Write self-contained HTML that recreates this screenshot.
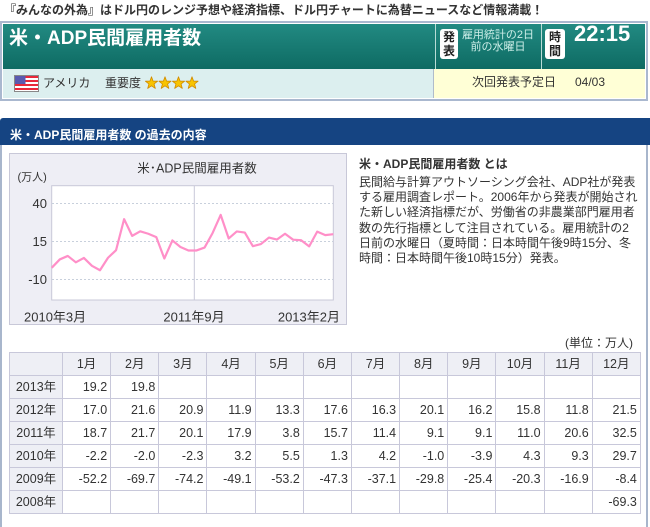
<!DOCTYPE html>
<html><head><meta charset="utf-8">
<style>
*{margin:0;padding:0;box-sizing:border-box;}
html,body{width:650px;height:527px;overflow:hidden;background:#fff;}
body{position:relative;font-family:"Liberation Sans","Noto Sans CJK JP",sans-serif;color:#333;}
.a{position:absolute;white-space:nowrap;}
.grid{position:absolute;left:9px;top:352px;width:632px;height:162px;background:#c8c8da;padding:1px;display:grid;grid-template-columns:52px repeat(12,47.17px);grid-template-rows:repeat(7,22px);gap:1px;}
.grid div{background:#fff;font-size:12.5px;line-height:22px;text-align:right;padding-right:3px;color:#333;white-space:nowrap;overflow:hidden;}
.grid div.h{background:#eeeff5;text-align:center;padding:0;}
</style></head><body>

<div class="a" style="left:4px;top:1px;font-size:12px;line-height:18px;font-weight:bold;color:#333;">『みんなの外為』はドル円のレンジ予想や経済指標、ドル円チャートに為替ニュースなど情報満載！</div>

<!-- header box -->
<div class="a" style="left:0;top:21px;width:648px;height:80px;border:2px solid #aab8cf;background:#fff;"></div>
<div class="a" style="left:3px;top:24px;width:642px;height:45px;background:linear-gradient(#228a82,#0e6b63);"></div>
<div class="a" style="left:435px;top:24px;width:1px;height:45px;background:#b8dcd6;"></div>
<div class="a" style="left:541px;top:24px;width:1px;height:45px;background:#b8dcd6;"></div>
<div class="a" style="left:3px;top:69px;width:431px;height:29px;background:#dcefef;"></div>
<div class="a" style="left:433px;top:69px;width:1px;height:29px;background:#b0bccb;"></div>
<div class="a" style="left:434px;top:69px;width:211px;height:29px;background:#ffffd6;"></div>

<div class="a" style="left:9px;top:27px;font-size:19px;line-height:24px;font-weight:bold;color:#fff;">米・ADP民間雇用者数</div>

<div class="a" style="left:440px;top:29px;width:18px;height:30px;background:#fff;border-radius:3px;"></div>
<div class="a" style="left:440px;top:30px;width:18px;font-size:12px;line-height:14px;text-align:center;color:#222;font-weight:bold;white-space:normal;">発<br>表</div>
<div class="a" style="left:458px;top:29px;width:80px;font-size:11px;line-height:12px;text-align:center;color:#cdeee8;">雇用統計の2日<br>前の水曜日</div>

<div class="a" style="left:545px;top:29px;width:20px;height:30px;background:#fff;border-radius:3px;"></div>
<div class="a" style="left:545px;top:30px;width:20px;font-size:12px;line-height:14px;text-align:center;color:#222;font-weight:bold;">時<br>間</div>
<div class="a" style="left:574px;top:22px;font-size:22px;line-height:24px;font-weight:bold;color:#fff;">22:15</div>

<!-- flag -->
<svg class="a" style="left:14px;top:75px;" width="25" height="17" viewBox="0 0 25 17">
<rect x="0" y="0" width="25" height="17" fill="#fff"/>
<rect x="0.5" y="1" width="24" height="2" fill="#e8283a"/>
<rect x="0.5" y="5" width="24" height="2" fill="#e8283a"/>
<rect x="0.5" y="9" width="24" height="2" fill="#e8283a"/>
<rect x="0.5" y="13" width="24" height="2" fill="#e8283a"/>
<rect x="0.5" y="0.5" width="11" height="8.5" fill="#5a5ab0"/>
<rect x="0.5" y="0.5" width="24" height="16" fill="none" stroke="#888" stroke-width="1"/>
</svg>
<div class="a" style="left:43px;top:75px;font-size:12px;line-height:16px;color:#333;">アメリカ</div>
<div class="a" style="left:105px;top:75px;font-size:12px;line-height:16px;color:#333;">重要度</div>
<svg class="a" style="left:145px;top:76px;" width="56" height="15" viewBox="0 0 56 15">
<g fill="#f8c400" stroke="#d08a00" stroke-width="0.8" stroke-linejoin="round">
<polygon points="6.5,0.8 8.1,5.1 12.6,5.2 9.1,8 10.3,12.4 6.5,9.8 2.7,12.4 3.9,8 0.4,5.2 4.9,5.1"/>
<polygon transform="translate(13.5,0)" points="6.5,0.8 8.1,5.1 12.6,5.2 9.1,8 10.3,12.4 6.5,9.8 2.7,12.4 3.9,8 0.4,5.2 4.9,5.1"/>
<polygon transform="translate(27,0)" points="6.5,0.8 8.1,5.1 12.6,5.2 9.1,8 10.3,12.4 6.5,9.8 2.7,12.4 3.9,8 0.4,5.2 4.9,5.1"/>
<polygon transform="translate(40.5,0)" points="6.5,0.8 8.1,5.1 12.6,5.2 9.1,8 10.3,12.4 6.5,9.8 2.7,12.4 3.9,8 0.4,5.2 4.9,5.1"/>
</g></svg>
<div class="a" style="left:472px;top:74px;font-size:12px;line-height:16px;color:#333;">次回発表予定日</div>
<div class="a" style="left:575px;top:74px;font-size:12px;line-height:16px;color:#333;">04/03</div>

<!-- blue band -->
<div class="a" style="left:0;top:118px;width:650px;height:27px;background:#154482;border-radius:3px 0 0 0;"></div>
<div class="a" style="left:10px;top:127px;font-size:12px;line-height:17px;font-weight:bold;color:#fff;">米・ADP民間雇用者数 の過去の内容</div>
<div class="a" style="left:0;top:145px;width:2px;height:382px;background:#a8b6cc;"></div>
<div class="a" style="left:646px;top:145px;width:2px;height:382px;background:#a8b6cc;"></div>

<!-- chart -->
<div class="a" style="left:9px;top:153px;width:338px;height:172px;background:#eeeef5;border:1px solid #c8c8d8;"></div>
<svg class="a" style="left:0;top:0;" width="650" height="527" viewBox="0 0 650 527">
<rect x="51.7" y="185.7" width="281.6" height="114.3" fill="#fff" stroke="#c8c8d8" stroke-width="1"/>
<g stroke="#c8d0dc" stroke-width="1" stroke-dasharray="2,2">
<line x1="52" y1="203.5" x2="333" y2="203.5"/>
<line x1="52" y1="241.5" x2="333" y2="241.5"/>
<line x1="52" y1="279.5" x2="333" y2="279.5"/>
</g>
<line x1="194.3" y1="186" x2="194.3" y2="300" stroke="#c8c8d8" stroke-width="1"/>
<polyline fill="none" stroke="#ff8fc8" stroke-width="2.2" stroke-linejoin="round" points="51.7,267.8 59.75,259.44 67.79,255.94 75.84,262.32 83.88,257.92 91.93,265.82 99.98,270.23 108.02,257.76 116.07,250.16 124.11,219.16 132.16,235.88 140.21,231.32 148.25,233.75 156.3,237.09 164.34,258.52 172.39,240.44 180.44,246.97 188.48,250.47 196.53,250.47 204.57,247.58 212.62,232.99 220.67,214.9 228.71,238.46 236.76,231.47 244.8,232.53 252.85,246.21 260.9,244.08 268.94,237.55 276.99,239.52 285.03,233.75 293.08,239.68 301.13,240.28 309.17,246.36 317.22,231.62 325.26,235.12 333.3,234.2"/>
<g font-family="Liberation Sans, Noto Sans CJK JP, sans-serif" fill="#333">
<text x="197" y="172.5" font-size="12.5" text-anchor="middle">米･ADP民間雇用者数</text>
<text x="17.5" y="180.5" font-size="11">(万人)</text>
<text x="47" y="208" font-size="13" text-anchor="end">40</text>
<text x="47" y="246" font-size="13" text-anchor="end">15</text>
<text x="47" y="284" font-size="13" text-anchor="end">-10</text>
<text x="24" y="321.5" font-size="13">2010年3月</text>
<text x="194" y="321.5" font-size="13" text-anchor="middle">2011年9月</text>
<text x="340" y="321.5" font-size="13" text-anchor="end">2013年2月</text>
</g>
</svg>

<!-- description -->
<div class="a" style="left:359px;top:156px;font-size:12px;line-height:16px;font-weight:bold;color:#333;">米・ADP民間雇用者数 とは</div>
<div class="a" style="left:359px;top:174.8px;font-size:12px;line-height:15.3px;color:#333;">民間給与計算アウトソーシング会社、ADP社が発表<br>する雇用調査レポート。2006年から発表が開始され<br>た新しい経済指標だが、労働省の非農業部門雇用者<br>数の先行指標として注目されている。雇用統計の2<br>日前の水曜日（夏時間：日本時間午後9時15分、冬<br>時間：日本時間午後10時15分）発表。</div>

<div class="a" style="left:560px;top:335px;width:73px;text-align:right;font-size:12px;line-height:16px;color:#333;">(単位：万人)</div>

<div class="grid">
<div class="h"></div><div class="h">1月</div><div class="h">2月</div><div class="h">3月</div><div class="h">4月</div><div class="h">5月</div><div class="h">6月</div><div class="h">7月</div><div class="h">8月</div><div class="h">9月</div><div class="h">10月</div><div class="h">11月</div><div class="h">12月</div>
<div class="h">2013年</div><div>19.2</div><div>19.8</div><div></div><div></div><div></div><div></div><div></div><div></div><div></div><div></div><div></div><div></div>
<div class="h">2012年</div><div>17.0</div><div>21.6</div><div>20.9</div><div>11.9</div><div>13.3</div><div>17.6</div><div>16.3</div><div>20.1</div><div>16.2</div><div>15.8</div><div>11.8</div><div>21.5</div>
<div class="h">2011年</div><div>18.7</div><div>21.7</div><div>20.1</div><div>17.9</div><div>3.8</div><div>15.7</div><div>11.4</div><div>9.1</div><div>9.1</div><div>11.0</div><div>20.6</div><div>32.5</div>
<div class="h">2010年</div><div>-2.2</div><div>-2.0</div><div>-2.3</div><div>3.2</div><div>5.5</div><div>1.3</div><div>4.2</div><div>-1.0</div><div>-3.9</div><div>4.3</div><div>9.3</div><div>29.7</div>
<div class="h">2009年</div><div>-52.2</div><div>-69.7</div><div>-74.2</div><div>-49.1</div><div>-53.2</div><div>-47.3</div><div>-37.1</div><div>-29.8</div><div>-25.4</div><div>-20.3</div><div>-16.9</div><div>-8.4</div>
<div class="h">2008年</div><div></div><div></div><div></div><div></div><div></div><div></div><div></div><div></div><div></div><div></div><div></div><div>-69.3</div>
</div>

</body></html>
